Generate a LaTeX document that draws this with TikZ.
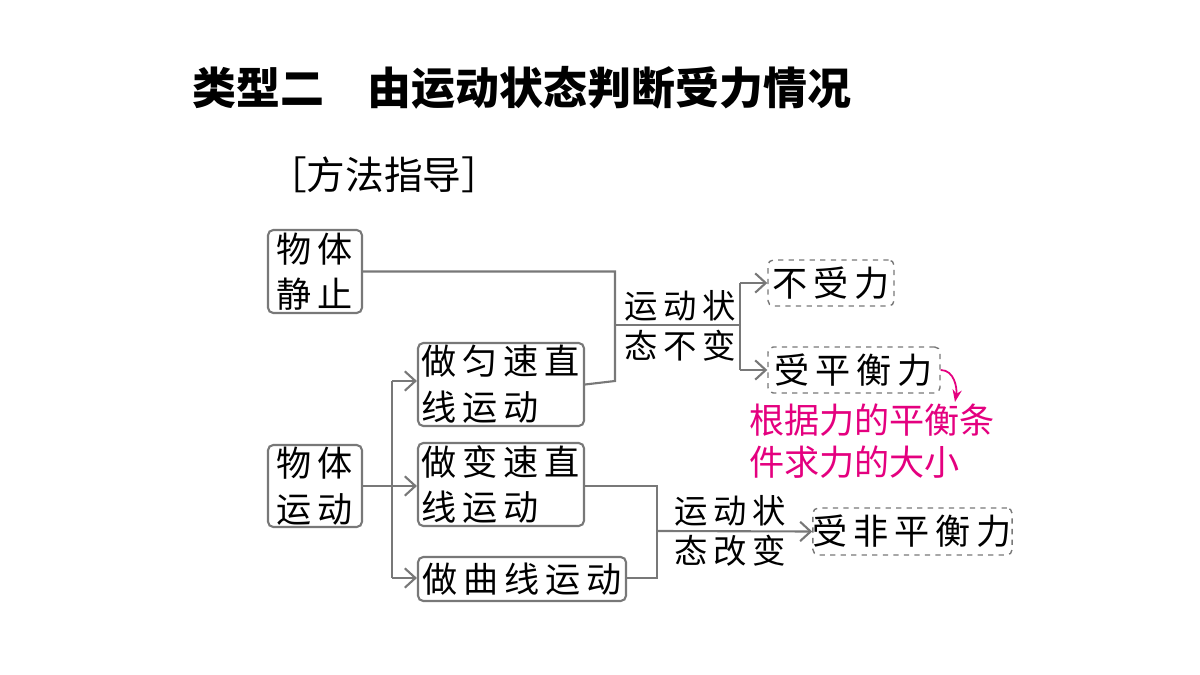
\documentclass[tikz,border=0pt]{standalone}
\usepackage{fontspec}
\newfontfamily\cjk{Noto Sans CJK SC}
\usetikzlibrary{arrows.meta,positioning}
\definecolor{boxgray}{RGB}{120,120,120}
\definecolor{pinktext}{RGB}{228,0,127}
\tikzset{
  solidbox/.style={draw=boxgray,line width=1.2pt,rounded corners=3pt,align=left,
    inner sep=0pt,font=\cjk\fontsize{20}{26}\selectfont},
  dashbox/.style={draw=boxgray,dashed,line width=0.8pt,rounded corners=3pt,
    inner sep=0pt,font=\cjk\fontsize{20}{26}\selectfont},
  link/.style={draw=boxgray,line width=1.2pt},
  arr/.style={link,-{Straight Barb[length=6pt,width=11pt]}},
  note/.style={align=left,font=\cjk\fontsize{19}{23}\selectfont}
}
\begin{document}
\begin{tikzpicture}[x=0.02cm,y=-0.02cm]
\useasboundingbox (0,0) rectangle (1200,675);

\node[anchor=west,font=\cjk\bfseries\fontsize{25}{30}\selectfont] (title) at (186,88) {类型二\hspace{1em}由运动状态判断受力情况};
\node[anchor=west,font=\cjk\fontsize{22}{26}\selectfont] (guide) at (262,175) {［方法指导］};

% left column
\node[solidbox,minimum width=94*0.02cm,minimum height=83*0.02cm,align=center] (still) at (315,271.5) {物\,体\\静\,止};
\node[solidbox,minimum width=94*0.02cm,minimum height=82*0.02cm,align=center] (move) at (315,486) {物\,体\\运\,动};

% middle column
\node[solidbox,minimum width=166*0.02cm,minimum height=83*0.02cm] (uniform) at (501,384.5) {做\,匀\,速\,直\\线\,运\,动\hspace{2.6em}};
\node[solidbox,minimum width=166*0.02cm,minimum height=83*0.02cm] (varied) at (501,484.5) {做\,变\,速\,直\\线\,运\,动\hspace{2.6em}};
\node[solidbox,minimum width=208*0.02cm,minimum height=44*0.02cm] (curve) at (522,579) {做\,曲\,线\,运\,动};

% results
\node[dashbox,minimum width=126*0.02cm,minimum height=46*0.02cm] (nof) at (831,283) {不\,受\,力};
\node[dashbox,minimum width=172*0.02cm,minimum height=46*0.02cm] (bal) at (854,370) {受\,平\,衡\,力};
\node[dashbox,minimum width=199*0.02cm,minimum height=47*0.02cm] (unbal) at (912.5,531.5) {受\,非\,平\,衡\,力};

% labels
\node[note] (same) at (680,326) {运\,动\,状\\态\,不\,变};
\node[note] (change) at (730,531) {运\,动\,状\\态\,改\,变};
\node[note,text=pinktext,font=\cjk\fontsize{20}{24}\selectfont] (rule) at (872,441) {根据力的平衡条\\件求力的大小};

% connectors
\coordinate (j1) at (615,381);
\coordinate (j2) at (615,325);
\coordinate (k1) at (740,283);
\coordinate (k2) at (740,370);
\draw[link] (still.east) -| (j1) -- (uniform.east);
\draw[link] (j2) -- (740,325);
\draw[link] (k1) -- (k2);
\draw[arr] (k1) -- (nof.west);
\draw[arr] (k2) -- (bal.west);

\coordinate (m0) at (392,486);
\draw[link] (move.east) -- (m0);
\draw[link] (392,381) -- (392,578);
\draw[arr] (392,381) -- (uniform.west |- 0,381);
\draw[arr] (m0) -- (varied.west |- 0,486);
\draw[arr] (392,578) -- (curve.west |- 0,578);

\coordinate (n1) at (657,486);
\coordinate (n2) at (657,531);
\draw[link] (varied.east |- n1) -- (n1) -- (657,578) -- (curve.east |- 0,578);
\draw[arr] (n2) -- (unbal.west);

\draw[pinktext,line width=1pt,-{Stealth[length=7pt]}] (bal.east) to[out=0,in=80] (955,402);
\end{tikzpicture}
\end{document}
